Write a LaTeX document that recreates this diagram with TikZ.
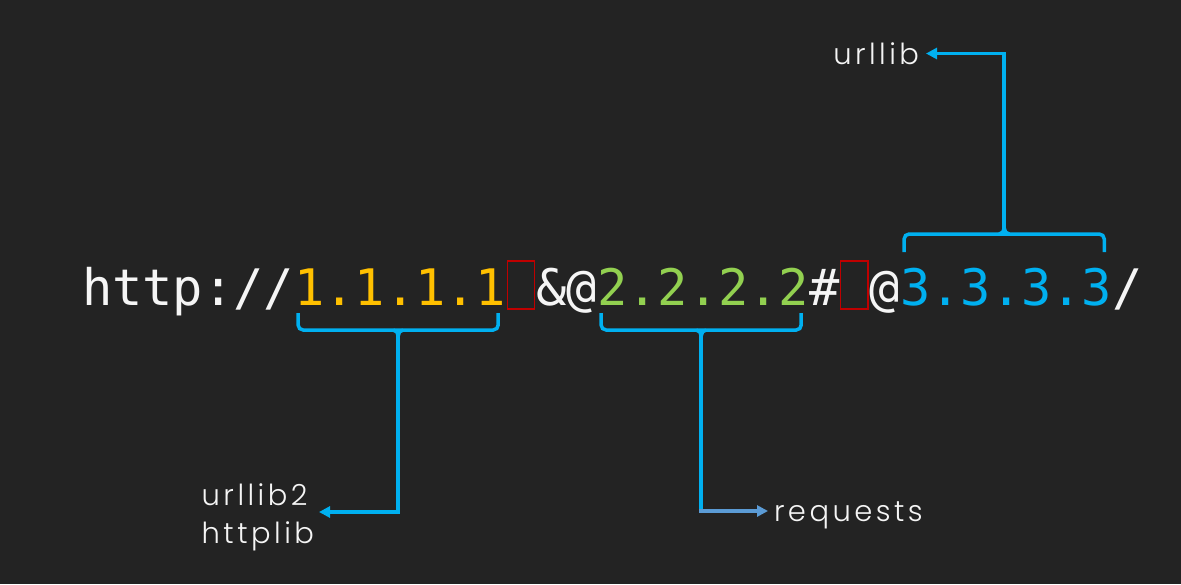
\documentclass[tikz,border=0pt]{standalone}
\usepackage{fontspec}
\usetikzlibrary{calc,arrows.meta}
\newfontfamily\urlfont{DejaVu Sans Mono}
\newfontfamily\labfont{Poppins Light}[LetterSpace=12]
\definecolor{bg}{HTML}{232323}
\definecolor{fg}{HTML}{F5F5F5}
\definecolor{yel}{HTML}{FFC000}
\definecolor{grn}{HTML}{92D050}
\definecolor{blu}{HTML}{00B0F0}
\definecolor{stl}{HTML}{5B9BD5}
\definecolor{rbox}{HTML}{C00000}
\tikzset{
  urltxt/.style={font=\urlfont\fontsize{50.33}{60}\selectfont, text=fg, inner sep=0pt, outer sep=0pt},
  redbox/.style={draw=rbox, line width=1.3pt, minimum width=27.5pt, minimum height=48pt, inner sep=0pt, outer sep=0pt},
  brace/.style={draw=blu, line width=3.5pt, rounded corners=5pt},
  conn/.style={draw=blu, line width=3.5pt},
  tip/.style={-{Triangle[length=11pt,width=11pt]}},
  lab/.style={font=\labfont\fontsize{29}{38}\selectfont, text=fg, inner ysep=0pt, inner xsep=7pt, outer sep=0pt}
}
\begin{document}
\begin{tikzpicture}[x=1pt,y=-1pt]
\useasboundingbox[fill=bg] (0,0) rectangle (1181,584);
% URL
\node[urltxt, anchor=base west] (pre) at (82,305) {http://};
\node[urltxt, anchor=base west, text=yel] (ip1) at (pre.base east) {1.1.1.1};
\node[redbox, anchor=south west] (box1) at ($(ip1.base east)+(1,4)$) {};
\node[urltxt, anchor=base west] (mid) at ($(ip1.base east)+(30.3,0)$) {\&@};
\node[urltxt, anchor=base west, text=grn] (ip2) at (mid.base east) {2.2.2.2};
\node[urltxt, anchor=base west] (hash) at (ip2.base east) {\#};
\node[redbox, anchor=south west] (box2) at ($(hash.base east)+(1,4)$) {};
\node[urltxt, anchor=base west] (atsign) at ($(hash.base east)+(30.3,0)$) {@};
\node[urltxt, anchor=base west, text=blu] (ip3) at (atsign.base east) {3.3.3.3};
\node[urltxt, anchor=base west] (slash) at (ip3.base east) {/};
% labels
\node[lab, anchor=base east] (ul) at (926,64) {urllib};
\node[lab, align=left, anchor=east, inner xsep=5pt] (lab1) at (319,517.5) {urllib2\\httplib};
\node[lab, anchor=base west, inner xsep=6pt] (req) at (768,521) {requests};
% brace points
\coordinate (b1l) at ($(ip1.base west)+(4,8)$);
\coordinate (b1r) at ($(ip1.base east)+(-8,8)$);
\coordinate (b1c) at ($(b1l)!0.5!(b1r)+(0,17)$);
\coordinate (b2l) at ($(ip2.base west)+(4,8)$);
\coordinate (b2r) at ($(ip2.base east)+(-8,8)$);
\coordinate (b2c) at ($(b2l)!0.5!(b2r)+(0,17)$);
\coordinate (b3l) at ($(ip3.base west)+(4,-53)$);
\coordinate (b3r) at ($(ip3.base east)+(-8,-53)$);
\coordinate (b3c) at ($(b3l)!0.5!(b3r)+(0,-18)$);
\coordinate (ulin) at ([yshift=10.5pt]ul.base east);
\coordinate (reqin) at ([yshift=10pt]req.base west);
\coordinate (lab1in) at ([yshift=5.5pt]lab1.east);
% braces
\draw[brace] (b1l) -- ++(0,17) -- ($(b1r)+(0,17)$) -- (b1r);
\draw[conn] ($(b1c)+(-5,0)$) to[out=0,in=90] ($(b1c)+(0,6)$) to[out=90,in=180] ($(b1c)+(5,0)$);
\draw[brace] (b2l) -- ++(0,17) -- ($(b2r)+(0,17)$) -- (b2r);
\draw[conn] ($(b2c)+(-5,0)$) to[out=0,in=90] ($(b2c)+(0,6)$) to[out=90,in=180] ($(b2c)+(5,0)$);
\draw[brace] (b3l) -- ++(0,-18) -- ($(b3r)+(0,-18)$) -- (b3r);
\draw[conn] ($(b3c)+(-5,0)$) to[out=0,in=-90] ($(b3c)+(0,-6)$) to[out=-90,in=180] ($(b3c)+(5,0)$);
% connectors
\draw[conn, tip] (b1c) |- (lab1in);
\draw[conn] (b2c) -- ($(b2c |- reqin)+(0,1.75)$);
\draw[conn, draw=stl, tip] ($(b2c |- reqin)+(-1.75,0)$) -- (reqin);
\draw[conn, tip] (b3c) |- (ulin);
\end{tikzpicture}
\end{document}
